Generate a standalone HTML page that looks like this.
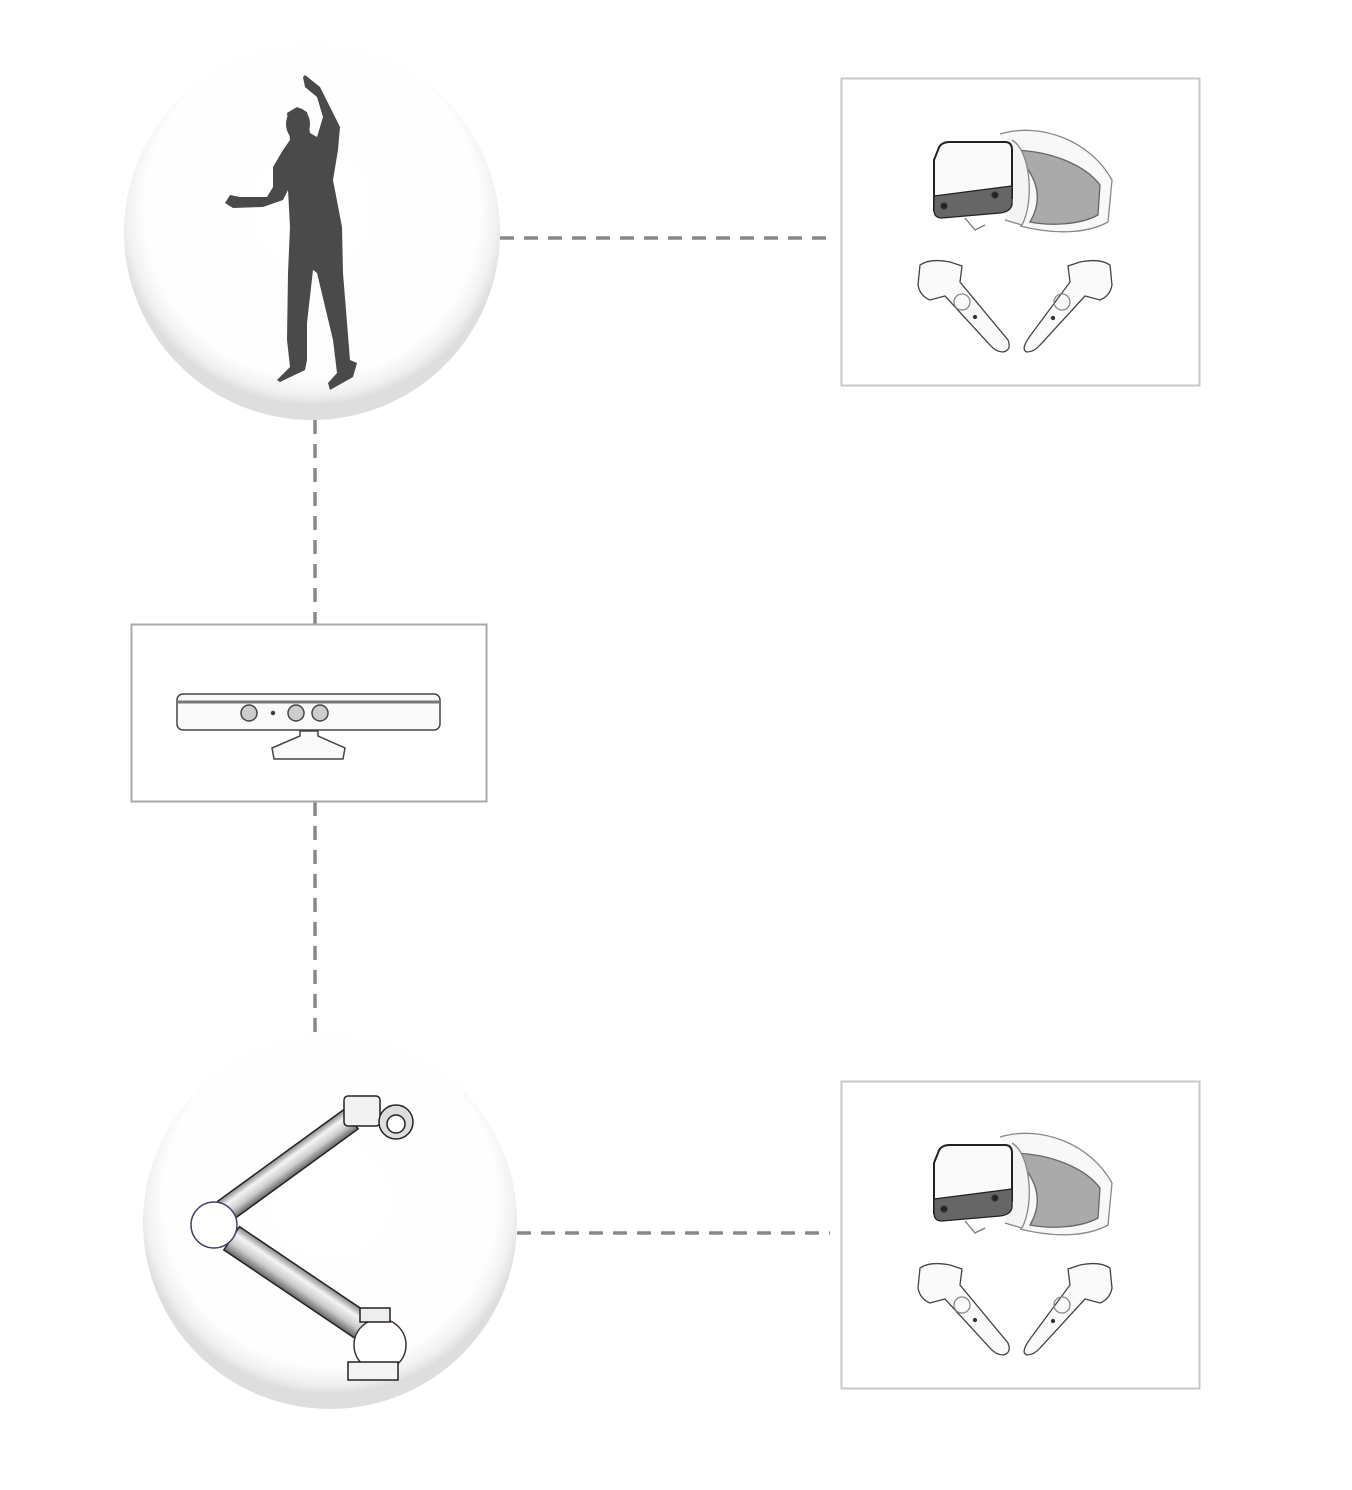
<!DOCTYPE html>
<html><head><meta charset="utf-8"><style>html,body{margin:0;padding:0;background:#fff}svg{display:block}</style></head>
<body>
<svg width="1352" height="1490" viewBox="0 0 1352 1490" xmlns="http://www.w3.org/2000/svg">
<defs>
<radialGradient id="cg" cx="50%" cy="44%" r="52%">
<stop offset="0" stop-color="#fff"/><stop offset="0.86" stop-color="#fefefe"/><stop offset="0.95" stop-color="#f0f0f0"/><stop offset="1" stop-color="#dedede"/>
</radialGradient>
<linearGradient id="tube" x1="0" y1="0" x2="0" y2="1">
<stop offset="0" stop-color="#888"/><stop offset="0.3" stop-color="#f4f4f4"/><stop offset="0.65" stop-color="#ccc"/><stop offset="1" stop-color="#666"/>
</linearGradient>
<g id="vr" fill="none" stroke="#333" stroke-width="1.3">
<path d="M1000,134 C1040,122 1090,140 1112,180 L1108,222 C1090,232 1060,236 1020,226" stroke="#888" fill="#f8f8f8"/>
<path d="M1010,150 C1050,150 1085,165 1100,185 L1098,215 C1080,225 1050,226 1030,222 C1040,205 1045,180 1010,150Z" fill="#aaa" stroke="#666"/>
<path d="M1012,140 C1030,150 1035,200 1022,225 L1005,220" fill="#f4f4f4" stroke="#888"/>
<path d="M938,150 Q940,142 950,142 L1005,142 Q1012,142 1012,150 L1012,198 L934,210 L934,160 Z" fill="#fafafa" stroke="#222" stroke-width="2"/>
<path d="M934,196 L1012,186 L1012,205 Q1010,212 1000,213 L942,218 Q934,218 934,210Z" fill="#666" stroke="#222"/>
<circle cx="944" cy="206" r="3" fill="#222"/><circle cx="995" cy="195" r="3" fill="#222"/>
<path d="M965,218 L975,230 L985,225" stroke="#777"/>
<path d="M920,265 Q930,258 950,262 L962,266 L960,282 L1008,340 Q1012,350 1003,352 Q996,352 990,345 L945,296 L930,300 Q920,296 918,285Z" fill="#fafafa" stroke="#444"/>
<circle cx="962" cy="302" r="8" stroke="#888"/><circle cx="975" cy="317" r="1.5" fill="#333"/>
<path d="M1110,265 Q1100,258 1080,262 L1068,266 L1070,282 L1030,336 Q1020,350 1027,352 Q1034,352 1040,345 L1085,296 L1100,300 Q1110,296 1112,285Z" fill="#fafafa" stroke="#444"/>
<circle cx="1062" cy="302" r="8" stroke="#888"/><circle cx="1053" cy="318" r="1.5" fill="#333"/>
</g>
</defs>
<g stroke="#888" stroke-width="3.5" stroke-dasharray="14,10" fill="none">
<line x1="500" y1="238" x2="835" y2="238"/>
<line x1="315" y1="420" x2="315" y2="624"/>
<line x1="315" y1="802" x2="315" y2="1032"/>
<line x1="517" y1="1233" x2="830" y2="1233"/>
</g>
<circle cx="312" cy="232" r="188" fill="url(#cg)"/>
<polygon fill="#4a4a4a" points="305,75 320,87 340,127 338,150 333,180 342,227 343,273 350,360 357,363 353,377 330,390 328,383 337,373 333,340 317,273 313,270 307,323 307,360 305,370 280,382 277,380 290,367 287,340 288,273 290,227 288,190 283,200 263,207 233,208 225,203 230,195 240,197 267,197 273,187 273,167 283,150 290,140 287,113 297,107 307,112 310,133 317,137 323,117 317,97 305,87 303,77"/>
<ellipse cx="298" cy="124" rx="12" ry="16" fill="#4a4a4a"/>
<circle cx="330" cy="1222" r="187" fill="url(#cg)"/>
<g stroke="#222" stroke-width="1.5">
<g transform="rotate(-36 288 1165)"><rect x="210" y="1153" width="156" height="24" fill="url(#tube)"/></g>
<g transform="rotate(34 298 1283)"><rect x="218" y="1269" width="160" height="28" fill="url(#tube)"/></g>
<rect x="344" y="1096" width="36" height="30" rx="4" fill="#f2f2f2"/>
<circle cx="396" cy="1122" r="17" fill="#ddd"/><circle cx="396" cy="1124" r="9" fill="#fff"/>
<circle cx="214" cy="1225" r="23" fill="#fff" stroke="#446"/>
<circle cx="380" cy="1345" r="26" fill="#fff" stroke="#433"/>
<rect x="348" y="1362" width="50" height="18" fill="#f4f4f4"/>
<rect x="360" y="1308" width="30" height="14" fill="#eee"/>
</g>
<rect x="841.5" y="78.5" width="358" height="307" fill="#fff" stroke="#c8c8c8" stroke-width="2"/>
<use href="#vr"/>
<rect x="841.5" y="1081.5" width="358" height="307" fill="#fff" stroke="#c8c8c8" stroke-width="2"/>
<use href="#vr" transform="translate(0,1003)"/>
<rect x="131.5" y="624.5" width="355" height="177" fill="#fff" stroke="#aaa" stroke-width="2"/>
<g stroke="#444" stroke-width="1.5" fill="#fafafa">
<rect x="177" y="694" width="263" height="36" rx="6"/>
<line x1="178" y1="702" x2="439" y2="702" stroke="#777" stroke-width="3"/>
<circle cx="249" cy="713" r="8" fill="#ccc"/><circle cx="296" cy="713" r="8" fill="#ccc"/><circle cx="320" cy="713" r="8" fill="#ccc"/>
<circle cx="273" cy="713" r="1.5" fill="#333"/>
<path d="M300,731 L318,731 L318,736 L345,748 L343,759 L274,759 L272,748 L300,736Z"/>
</g>
</svg>
</body></html>
